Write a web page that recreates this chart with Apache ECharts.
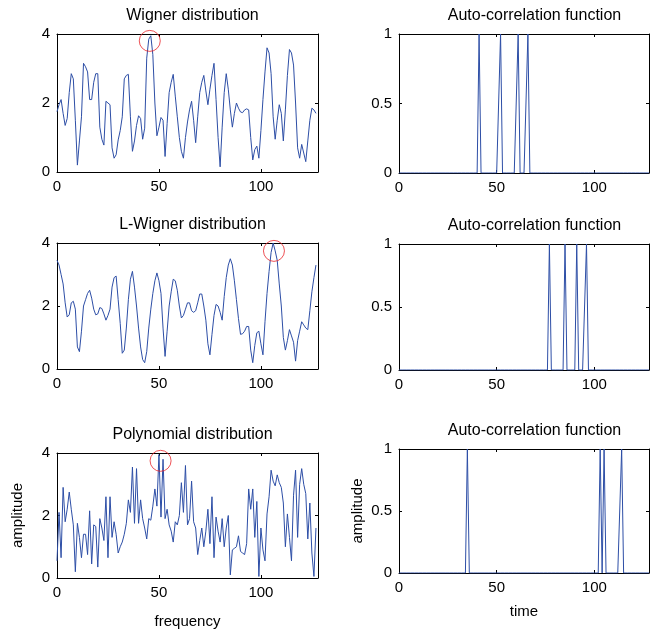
<!DOCTYPE html>
<html>
<head>
<meta charset="utf-8">
<script src="https://cdn.jsdelivr.net/npm/echarts@6/dist/echarts.min.js"></script>
<style>
  html, body { margin: 0; padding: 0; background: #fff; }
  #chart { width: 652px; height: 632px; }
</style>
</head>
<body>
<div id="chart"></div>
<script>
  // sample values, index = frequency / time bin 0..127
  const wigner = [
    1.75, 1.95, 2.1, 1.7, 1.35, 1.55, 2.3, 2.85, 2.7, 1.5,
    0.2, 0.9, 1.6, 3.15, 3.05, 2.9, 2.1, 2.1, 2.6, 2.85,
    2.85, 1.3, 0.95, 0.78, 2.05, 2.0, 1.95, 0.7, 0.4, 0.5,
    0.93, 1.2, 1.6, 2.7, 2.8, 2.83, 1.6, 0.6, 0.9, 1.35,
    1.63, 1.55, 0.95, 1.27, 3.3, 3.85, 3.95, 3.4, 2.0, 1.05,
    1.3, 1.58, 1.5, 0.45, 1.4, 2.3, 2.6, 2.83, 2.2, 1.6,
    1.0, 0.6, 0.4, 1.0, 1.45, 1.8, 2.05, 1.5, 0.85, 1.6,
    2.3, 2.6, 2.8, 2.35, 1.95, 2.4, 2.8, 3.15, 2.1, 1.0,
    0.15, 1.3, 2.3, 2.85, 2.4, 1.8, 1.3, 1.7, 2.0, 1.85,
    1.74, 1.72, 1.8, 1.83, 1.8, 1.0, 0.35, 0.65, 0.75, 0.4,
    1.2, 2.1, 2.9, 3.6, 3.45, 2.85, 1.6, 0.95, 1.5, 1.95,
    1.7, 0.9, 1.8, 2.8, 3.55, 3.45, 3.1, 2.0, 0.7, 0.4,
    0.8, 0.55, 0.3, 0.9, 1.5, 1.85, 1.8, 1.7
  ];
  const lWigner = [
    3.45, 3.3, 3.0, 2.7, 2.1, 1.65, 1.72, 2.1, 2.15, 1.9,
    0.7, 0.55, 1.2, 2.0, 2.2, 2.4, 2.5, 2.25, 1.9, 1.72,
    1.75, 1.95, 1.92, 1.75, 1.55, 1.7, 1.9, 2.6, 2.9, 2.95,
    2.2, 1.45, 0.5, 0.6, 1.3, 2.2, 2.85, 3.1, 2.6, 2.0,
    1.3, 0.7, 0.3, 0.2, 0.55, 1.3, 1.9, 2.4, 2.8, 3.05,
    2.8, 2.4, 1.3, 0.4, 1.2, 2.0, 2.45, 2.85, 2.8, 2.5,
    2.0, 1.62, 1.7, 1.9, 2.1, 2.1, 1.85, 1.8, 1.85, 2.1,
    2.38, 2.38, 2.0, 1.55, 0.8, 0.45, 1.1, 1.7, 2.05, 2.0,
    1.8, 1.55, 2.3, 2.9, 3.3, 3.5, 3.3, 2.8, 2.2, 1.6,
    1.1, 1.12, 1.2, 1.35, 1.35, 0.6, 0.2, 0.75, 1.15, 1.2,
    0.8, 0.45, 1.5, 2.4, 3.1, 3.7, 4.0, 3.75, 3.45, 2.7,
    2.0, 1.0, 0.6, 0.9, 1.25, 1.05, 0.85, 0.25, 0.9, 1.2,
    1.5, 1.4, 1.3, 1.25, 1.85, 2.45, 2.9, 3.3
  ];
  const polynomial = [
    0.55, 2.1, 0.65, 2.9, 1.8, 2.2, 2.75, 2.2, 1.7, 0.2,
    1.75, 1.3, 0.65, 1.4, 1.4, 0.75, 2.15, 0.45, 1.7, 1.65,
    0.35, 1.9, 1.6, 1.2, 2.6, 0.65, 2.6, 1.3, 1.8, 1.4,
    0.8, 1.0, 1.15, 1.4, 1.75, 2.5, 2.1, 3.55, 1.75, 3.5,
    1.75, 2.5, 1.9, 1.6, 1.25, 1.9, 1.85, 2.3, 2.85, 2.3,
    3.95, 1.95, 3.8, 1.9, 2.2, 1.7, 1.5, 1.15, 1.8, 1.7,
    2.0, 3.05, 2.1, 3.6, 1.7, 1.9, 3.1, 1.8, 1.6, 0.75,
    1.2, 1.6, 1.0, 1.5, 2.2, 1.1, 2.6, 0.65, 1.95, 1.5,
    1.15, 1.9, 1.0, 1.6, 2.0, 0.1, 0.9, 0.95, 1.0, 1.35,
    0.85, 0.8, 0.75, 1.1, 2.85, 2.2, 2.85, 1.3, 2.45, 0.05,
    1.6, 0.9, 0.55, 2.05, 2.6, 3.45, 3.1, 2.95, 3.3, 3.05,
    2.9, 2.4, 1.0, 2.05, 1.3, 0.55, 2.65, 3.45, 1.3, 3.0,
    3.5, 3.0, 2.7, 1.25, 2.4, 0.8, 0.05, 1.6
  ];
  // bins where the auto-correlation function reaches 1
  const acfPeaks1 = [41, 52, 61, 66];
  const acfPeaks2 = [77, 85, 91, 96];
  const acfPeaks3 = [35, 103, 105, 114];
  // red circles marking the maxima
  const marks = [[45.5, 3.8], [106.4, 3.75], [50.8, 3.75]];

  const leftTitles = ['Wigner distribution', 'L-Wigner distribution', 'Polynomial distribution'];
  const rightTitle = 'Auto-correlation function';
  const xTicks = [0, 50, 100];

  const lineColor = '#2d4ea6';
  const font = 'Liberation Sans, Arial, sans-serif';
  const rows = [
    { left: [34, 172], right: [34, 173] },
    { left: [243, 369], right: [244, 370] },
    { left: [453, 578], right: [449, 573] },
  ];

  const grids = [];
  const xAxes = [];
  const yAxes = [];
  const series = [];
  const titles = [];

  const tickFmt = (v) => (xTicks.includes(v) ? String(v) : '');
  const boxLine = { show: true, onZero: false, lineStyle: { color: '#000', width: 1 } };
  const boxTick = { show: true, inside: true, length: 3, lineStyle: { color: '#000' } };
  const nameStyle = { color: '#000', fontSize: 15, fontFamily: font };

  const addPanel = (top, bottom, left, width, yMax, yInt, opts) => {
    const g = grids.length;
    grids.push({ left, top, width, height: bottom - top });
    const xi = xAxes.length;
    xAxes.push({
      gridIndex: g, type: 'value', min: 0, max: 128, interval: 50,
      axisLine: boxLine, axisTick: boxTick,
      axisLabel: { color: '#000', fontSize: 15, fontFamily: font, margin: 7, formatter: tickFmt },
      splitLine: { show: false },
      name: opts.xName || '', nameLocation: 'middle', nameGap: opts.xGap || 35,
      nameTextStyle: nameStyle,
    }, {
      gridIndex: g, type: 'value', min: 0, max: 128, interval: 50, position: 'top',
      axisLine: boxLine, axisTick: boxTick,
      axisLabel: { show: false }, splitLine: { show: false },
    });
    const yi = yAxes.length;
    yAxes.push({
      gridIndex: g, type: 'value', min: 0, max: yMax, interval: yInt,
      axisLine: boxLine, axisTick: boxTick,
      axisLabel: { color: '#000', fontSize: 15, fontFamily: font, margin: 7 },
      splitLine: { show: false },
      name: opts.yName || '', nameLocation: 'middle', nameGap: opts.yGap || 30, nameRotate: 90,
      nameTextStyle: nameStyle,
    }, {
      gridIndex: g, type: 'value', min: 0, max: yMax, interval: yInt, position: 'right',
      axisLine: boxLine, axisTick: boxTick,
      axisLabel: { show: false }, splitLine: { show: false },
    });
    series.push({
      type: 'line', xAxisIndex: xi, yAxisIndex: yi, data: opts.data,
      showSymbol: false, symbol: 'none', animation: false,
      lineStyle: { color: lineColor, width: 1 }, z: 3,
    });
    if (opts.mark) {
      series.push({
        type: 'scatter', xAxisIndex: xi, yAxisIndex: yi, data: [opts.mark],
        symbol: 'circle', symbolSize: 21, clip: false, animation: false, silent: true,
        itemStyle: { color: 'rgba(0,0,0,0)', borderColor: '#e8262a', borderWidth: 1 }, z: 4,
      });
    }
    titles.push({
      text: opts.title, left: left + width / 2, top: top - 31, textAlign: 'center',
      textStyle: { color: '#000', fontSize: 16, fontWeight: 'normal', fontFamily: font },
    });
  };

  const signals = [wigner, lWigner, polynomial];
  const peaks = [acfPeaks1, acfPeaks2, acfPeaks3];

  rows.forEach((r, i) => {
    const last = i === rows.length - 1;
    addPanel(r.left[0], r.left[1], 57, 261, 4, 2, {
      data: signals[i].map((v, k) => [k, v]),
      mark: marks[i],
      title: leftTitles[i],
      xName: last ? 'frequency' : '',
      xGap: 36,
      yName: last ? 'amplitude' : '',
      yGap: 32,
    });
    const acf = [];
    for (let k = 0; k <= 128; k++) acf.push([k, peaks[i].includes(k) ? 1 : 0]);
    addPanel(r.right[0], r.right[1], 399, 261, 1, 0.5, {
      data: acf,
      title: rightTitle,
      xName: last ? 'time' : '',
      xGap: 31,
      yName: last ? 'amplitude' : '',
      yGap: 34,
    });
  });

  const chart = echarts.init(document.getElementById('chart'), null, { renderer: 'canvas' });
  chart.setOption({
    backgroundColor: '#fff',
    animation: false,
    title: titles,
    grid: grids,
    xAxis: xAxes,
    yAxis: yAxes,
    series,
  });
</script>
</body>
</html>
